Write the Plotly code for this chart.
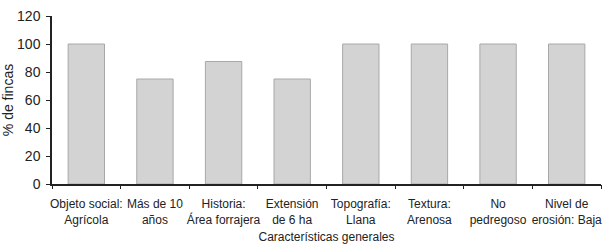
import plotly.graph_objects as go

categories = ["Objeto social:<br>Agrícola", "Más de 10<br>años", "Historia:<br>Área forrajera",
              "Extensión<br>de 6 ha", "Topografía:<br>Llana", "Textura:<br>Arenosa",
              "No<br>pedregoso", "Nivel de<br>erosión: Baja"]
values = [100, 75, 87.5, 75, 100, 100, 100, 100]
y_ticks = [0, 20, 40, 60, 80, 100, 120]

fig = go.Figure()
fig.add_trace(go.Bar(
    x=categories, y=values, width=0.53,
    marker=dict(color="#d3d3d3", line=dict(color="#a8a8a8", width=1)),
))
# invisible twin used only to draw the boundary tick marks
fig.add_trace(go.Bar(
    x=categories, y=values, xaxis="x2", yaxis="y2", opacity=0, hoverinfo="skip", showlegend=False,
))

fig.update_layout(
    width=612, height=245,
    margin=dict(l=52, r=11, t=16, b=61),
    plot_bgcolor="white", paper_bgcolor="white",
    font=dict(family="Liberation Sans, Arial, sans-serif", color="#222222"),
    showlegend=False,
    xaxis=dict(
        showline=True, linecolor="#222222", linewidth=1.5,
        ticks="outside", ticklen=8, tickcolor="rgba(0,0,0,0)",
        tickfont=dict(size=12), tickangle=0,
        title=dict(text="Características generales", font=dict(size=12), standoff=7),
        showgrid=False, automargin=False,
    ),
    xaxis2=dict(
        overlaying="x", anchor="y", side="bottom", matches="x",
        showline=False, showticklabels=False, showgrid=False,
        ticks="outside", tickson="boundaries", ticklen=4, tickcolor="#222222", tickwidth=1.2,
    ),
    yaxis=dict(
        range=[0, 120], tickvals=y_ticks,
        showline=True, linecolor="#222222", linewidth=1.5,
        ticks="outside", ticklen=7, tickcolor="rgba(0,0,0,0)",
        tickfont=dict(size=14),
        title=dict(text="% de fincas", font=dict(size=14), standoff=2),
        showgrid=False, zeroline=False, automargin=False,
    ),
    yaxis2=dict(
        overlaying="y", anchor="x", side="left", matches="y",
        showline=False, showticklabels=False, showgrid=False,
        tickvals=y_ticks, ticks="outside", ticklen=5, tickcolor="#222222", tickwidth=1.2,
    ),
)

fig.write_html("out.html")
